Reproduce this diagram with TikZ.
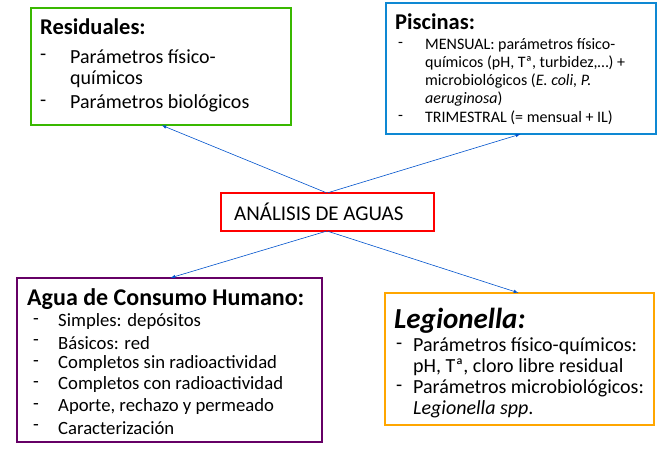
\documentclass[tikz,border=0pt]{standalone}
\usepackage{fontspec}
\setmainfont{Carlito}
\begin{document}
\begin{tikzpicture}[x=1pt,y=-1pt,
  box/.style={draw=#1,line width=1.2pt},
  t/.style={anchor=west,inner sep=0pt,font=\fontsize{#1}{#1}\selectfont},
  conn/.style={draw=blue!60!cyan!80!black,line width=0.6pt,-latex}]
\useasboundingbox (0,0) rectangle (669,452);
% boxes
\draw[box={green!60!black!70!lime}] (31,8) rectangle (291,125);
\node[inner sep=0pt] (res) at (161,125) {};
\draw[box={cyan!70!blue}] (386,3) rectangle (656,134);
\node[inner sep=0pt] (pis) at (521,134) {};
\draw[box=red] (221,193) rectangle (434,231);
\node[inner sep=0pt] (ctop) at (327,193) {};
\node[inner sep=0pt] (cbot) at (327,231) {};
\node[t=21] (center) at (234,212) {ANÁLISIS DE AGUAS};
\draw[box={violet!80!black}] (17,278) rectangle (322,442);
\node[inner sep=0pt] (agua) at (170,278) {};
\draw[box={orange!70!yellow}] (385,293) rectangle (654,425);
\node[inner sep=0pt] (leg) at (519,293) {};
% connectors
\draw[conn] (ctop) -- (res);
\draw[conn] (ctop) -- (pis);
\draw[conn] (cbot) -- (agua);
\draw[conn] (cbot) -- (leg);
% Residuales
\node[t=22,font=\fontsize{22.5}{22}\selectfont\bfseries] (rt) at (40,27) {Residuales:};
\node[t=20] (rd1) at (40,57) {-}; \node[t=20] (r1) at (70,57) {Parámetros físico-};
\node[t=20] (r1b) at (70,79) {químicos};
\node[t=20] (rd2) at (40,103) {-}; \node[t=20] (r2) at (70,103) {Parámetros biológicos};
% Piscinas
\node[t=22,font=\fontsize{22.5}{22}\selectfont\bfseries] (pt) at (395,22) {Piscinas:};
\node[t=16] (pd1) at (398,45) {-}; \node[t=16] (p1) at (425,45) {MENSUAL: parámetros físico-};
\node[t=16] (p2) at (425,63) {químicos (pH, Tª, turbidez,…) +};
\node[t=16] (p3) at (425,81) {microbiológicos (\textit{E. coli, P.}};
\node[t=16] (p4) at (425,99) {\textit{aeruginosa})};
\node[t=16] (pd2) at (398,118) {-}; \node[t=16] (p5) at (425,118) {TRIMESTRAL (= mensual + IL)};
% Agua
\node[t=24,font=\fontsize{24}{24}\selectfont\bfseries] (at) at (27,299) {Agua de Consumo Humano:};
\foreach \y/\s [count=\i] in {322/{Simples: depósitos},343/{Básicos: red},364/{Completos sin radioactividad},385/{Completos con radioactividad},407/{Aporte, rechazo y permeado},428/{Caracterización}}{
  \node[t=18.7] (ad\i) at (33,\y) {-};
  \node[t=18.7] (a\i) at (58,\y) {\s};
}
% Legionella
\node[t=29,font=\fontsize{29}{29}\selectfont\bfseries\itshape] (lt) at (394,321) {Legionella:};
\node[t=20] (ld1) at (396,346) {-}; \node[t=20] (l1) at (413,346) {Parámetros físico-químicos:};
\node[t=20] (l2) at (413,367) {pH, Tª, cloro libre residual};
\node[t=20] (ld2) at (396,388) {-}; \node[t=20] (l3) at (413,388) {Parámetros microbiológicos:};
\node[t=20] (l4) at (413,409) {\textit{Legionella spp}.};
\end{tikzpicture}
\end{document}
